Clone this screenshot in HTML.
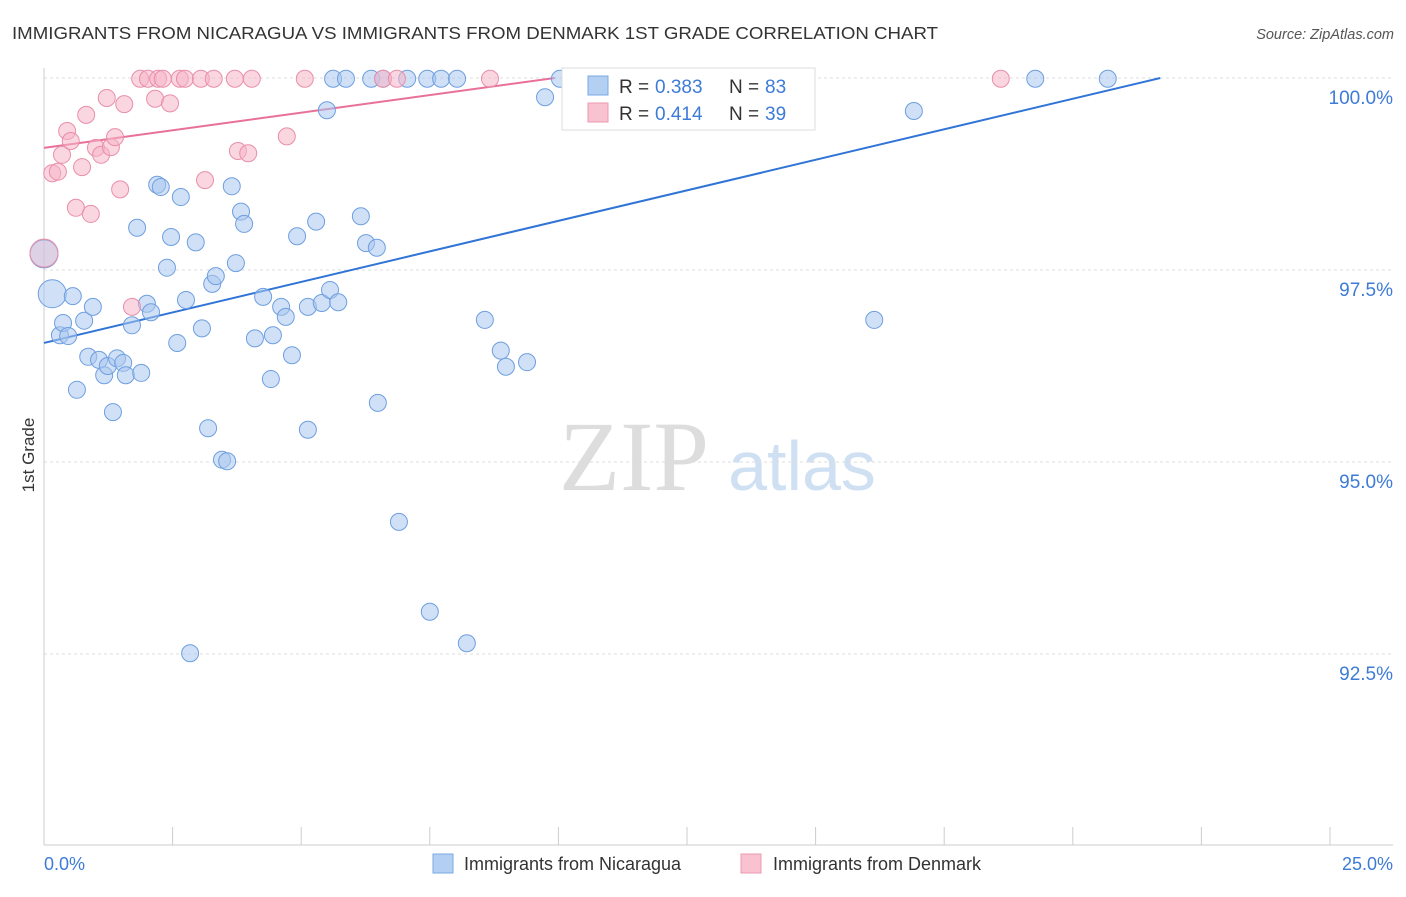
<!DOCTYPE html>
<html><head><meta charset="utf-8"><style>
body{margin:0;background:#fff;font-family:"Liberation Sans",sans-serif;}
</style></head><body>
<svg id="chart" width="1406" height="892" xmlns="http://www.w3.org/2000/svg" font-family="Liberation Sans, sans-serif">
<text x="12" y="39" font-size="17.5" fill="#333" textLength="926" lengthAdjust="spacingAndGlyphs">IMMIGRANTS FROM NICARAGUA VS IMMIGRANTS FROM DENMARK 1ST GRADE CORRELATION CHART</text>
<text x="1394" y="39" font-size="14.5" fill="#555" text-anchor="end" font-style="italic">Source: ZipAtlas.com</text>
<text x="34" y="455" font-size="17" fill="#333" text-anchor="middle" transform="rotate(-90 34 455)">1st Grade</text>
<g>
<text x="634" y="490" font-size="100" fill="#ddd" text-anchor="middle" style="font-family:'Liberation Serif',serif">ZIP</text>
<text x="802" y="490" font-size="70" fill="#cfe0f3" text-anchor="middle">atlas</text>
</g>
<g id="grid"></g><g id="axes"></g><g id="trend"></g><g id="pts"></g>
<g>
<rect x="562" y="68" width="253" height="62" fill="#fff" stroke="#ddd"/>
<rect x="588" y="76" width="20" height="19" fill="#b3cff2" stroke="#7aa8e4"/>
<text x="619" y="93" font-size="19" fill="#333">R =</text>
<text x="655" y="93" font-size="19" fill="#3d7bd6">0.383</text>
<text x="729" y="93" font-size="19" fill="#333">N =</text>
<text x="765" y="93" font-size="19" fill="#3d7bd6">83</text>
<rect x="588" y="103" width="20" height="19" fill="#f8c2d0" stroke="#eb9ab0"/>
<text x="619" y="120" font-size="19" fill="#333">R =</text>
<text x="655" y="120" font-size="19" fill="#3d7bd6">0.414</text>
<text x="729" y="120" font-size="19" fill="#333">N =</text>
<text x="765" y="120" font-size="19" fill="#3d7bd6">39</text>
</g>
<g>
<rect x="433" y="854" width="20" height="19" fill="#b3cff2" stroke="#7aa8e4"/>
<text x="464" y="870" font-size="18" fill="#333">Immigrants from Nicaragua</text>
<rect x="741" y="854" width="20" height="19" fill="#f8c2d0" stroke="#eb9ab0"/>
<text x="773" y="870" font-size="18" fill="#333">Immigrants from Denmark</text>
</g>
</svg>
<script>
const yTicks=[100,97.5,95,92.5];
const yTickLabels=["100.0%","97.5%","95.0%","92.5%"];
const xTickLabels=["0.0%","25.0%"];
const blueX=[0,0.16,0.31,0.37,0.47,0.56,0.64,0.78,0.95,0.86,1.07,1.17,1.24,1.34,1.42,1.54,1.59,1.71,1.81,1.89,2.00,2.08,2.20,2.27,2.39,2.47,2.59,2.66,2.76,2.84,2.95,3.07,3.19,3.27,3.34,3.46,3.56,3.65,3.73,3.83,3.89,4.10,4.26,4.41,4.45,4.61,4.70,4.82,4.92,5.13,5.13,5.29,5.40,5.50,5.56,5.72,5.62,5.87,6.16,6.26,6.36,6.47,6.49,6.59,6.90,7.06,7.45,7.50,7.72,8.03,8.22,8.57,8.88,8.98,9.39,9.74,10.03,11.97,16.14,16.91,19.27,20.68];
const blueY=[97.71,97.19,96.65,96.81,96.64,97.16,95.94,96.84,97.02,96.37,96.33,96.13,96.25,95.65,96.35,96.29,96.13,96.78,98.05,96.16,97.06,96.95,98.61,98.58,97.53,97.93,96.55,98.45,97.11,92.51,97.86,96.74,95.44,97.32,97.42,95.03,95.01,98.59,97.59,98.26,98.10,96.61,97.15,96.08,96.65,97.02,96.89,96.39,97.94,95.42,97.02,98.13,97.07,99.58,97.24,97.08,99.99,99.99,98.20,97.85,99.99,97.79,95.77,99.99,94.22,99.99,99.99,93.05,99.99,99.99,92.64,96.85,96.45,96.24,96.30,99.75,99.99,99.99,96.85,99.57,99.99,99.99];
const pinkX=[0.16,0.27,0.35,0.45,0.52,0.62,0.74,0.82,0.91,1.01,1.11,1.22,1.30,1.38,1.48,1.56,1.71,1.87,2.02,2.16,2.22,2.31,2.45,2.64,2.74,3.05,3.13,3.30,3.71,3.77,3.97,4.04,4.72,5.07,6.59,6.86,8.67,18.60];
const pinkY=[98.76,98.78,99.00,99.31,99.18,98.31,98.84,99.52,98.23,99.09,99.00,99.74,99.10,99.23,98.55,99.66,97.02,99.99,99.99,99.73,99.99,99.99,99.67,99.99,99.99,99.99,98.67,99.99,99.99,99.05,99.02,99.99,99.24,99.99,99.99,99.99,99.99,99.99];
const blueLine=[[0,96.55],[21.7,100]];
const pinkLine=[[0,99.09],[9.93,100]];
const NS="http://www.w3.org/2000/svg";
const X=v=>44+v/25*1286, Y=v=>78+(100-v)/2.5*192;
function mk(tag,attrs,parent){const e=document.createElementNS(NS,tag);for(const k in attrs)e.setAttribute(k,attrs[k]);document.getElementById(parent).appendChild(e);return e;}
yTicks.forEach((t,i)=>{
 const g=mk('line',{x1:44,x2:1393,y1:Y(t),y2:Y(t),stroke:'#ddd','stroke-dasharray':'3,3'},'grid');
 
 
 const l=mk('text',{x:1393,y:Y(t)+26,'font-size':19,fill:'#3d7bd6','text-anchor':'end'},'grid');l.textContent=yTickLabels[i];
 
 
});
const ax=mk('line',{x1:44,x2:44,y1:68,y2:845,stroke:'#ccc'},'axes');


const bx=mk('line',{x1:44,x2:1393,y1:845,y2:845,stroke:'#ccc'},'axes');


for(let i=0;i<=10;i++){const t=mk('line',{x1:X(i*2.5),x2:X(i*2.5),y1:827,y2:845,stroke:'#ccc'},'axes');
 
 }
[[0,'start'],[25,'end']].forEach((p,i)=>{const t=mk('text',{x:i?1393:44,y:870,'font-size':18,fill:'#3d7bd6','text-anchor':p[1]},'axes');t.textContent=xTickLabels[i];
 
 });
function drawPts(xs,ys,fill,stroke,name,bigCount){xs.forEach((x,i)=>{const big=i<bigCount;
 const c=mk('circle',{cx:X(x),cy:Y(ys[i]),r:big?14:8.5,fill:fill,'fill-opacity':0.55,stroke:stroke,'stroke-width':1},'pts');
 
 });}
drawPts(blueX,blueY,'#a9c7ef','#6e9fe0','nicaragua-point',2);
drawPts(pinkX,pinkY,'#f6b5c7','#e98eaa','denmark-point',0);
(function(){const c=mk('circle',{cx:X(0),cy:Y(97.72),r:14,fill:'#f6b5c7','fill-opacity':0.35,stroke:'#e98eaa'},'pts');
 
 })();
const bl=mk('line',{x1:X(blueLine[0][0]),y1:Y(blueLine[0][1]),x2:X(blueLine[1][0]),y2:Y(blueLine[1][1]),stroke:'#2f74d6','stroke-width':2},'trend');


const pl=mk('line',{x1:X(pinkLine[0][0]),y1:Y(pinkLine[0][1]),x2:X(pinkLine[1][0]),y2:Y(pinkLine[1][1]),stroke:'#e8709a','stroke-width':2},'trend');


</script>
</body></html>
